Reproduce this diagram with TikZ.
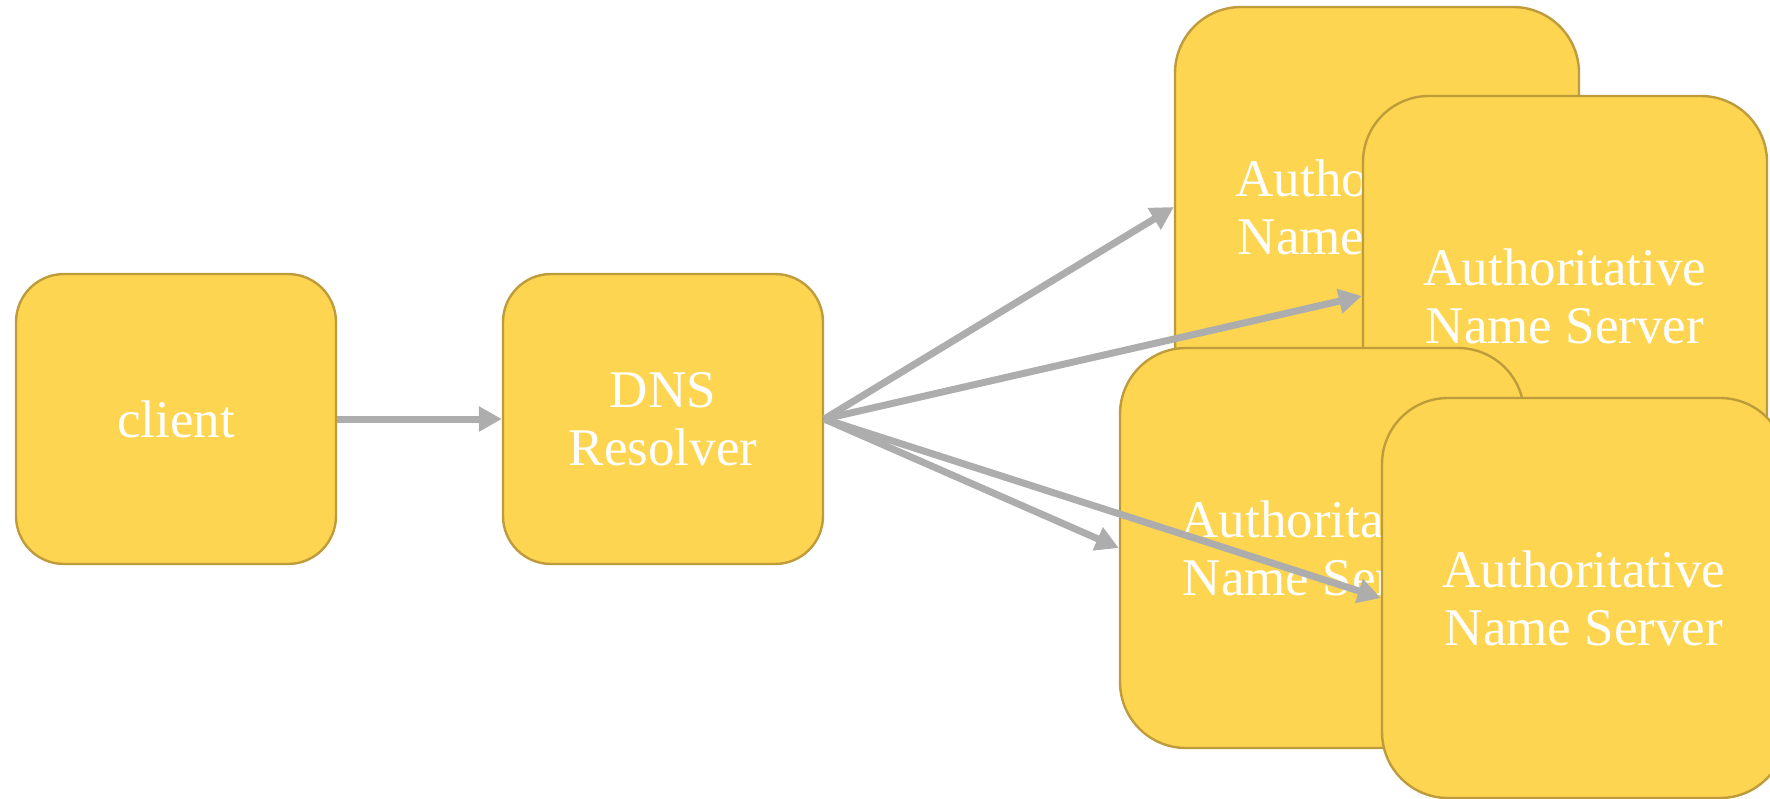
\documentclass[tikz,border=0pt]{standalone}
\usepackage{fontspec}
\setmainfont{Liberation Serif}
\usetikzlibrary{arrows.meta}

\definecolor{boxfill}{HTML}{FED550}
\definecolor{boxline}{HTML}{BE9C3C}
\definecolor{linkgray}{HTML}{ADADAD}

\tikzset{
  card/.style={draw=boxline, line width=1.2pt, fill=boxfill, text=white,
    align=center, inner sep=0pt,
    font=\fontsize{26.5}{29}\selectfont},
  smallcard/.style={card, rounded corners=24pt,
    minimum width=160pt, minimum height=145pt},
  bigcard/.style={card, rounded corners=33pt,
    minimum width=202pt, minimum height=200pt},
  link/.style={draw=linkgray, line width=3.5pt,
    -{Triangle[length=11.5pt, width=12pt]}}
}

\begin{document}
\begin{tikzpicture}[x=0.5pt, y=-0.5pt]
  \useasboundingbox (0,0) rectangle (1770,798);
  \clip (0,0) rectangle (1770,798);

  % client and resolver
  \node[smallcard] (client) at (176,419) {client};
  \node[smallcard] (resolver) at (663,419) {DNS\\Resolver};

  % stacked authoritative servers, back to front
  \node[bigcard] (ns1) at (1377,207) {Authoritative\\Name Server};
  \node[bigcard] (ns2) at (1565,296) {Authoritative\\Name Server};
  \node[bigcard] (ns3) at (1322,548) {Authoritative\\Name Server};
  \node[bigcard] (ns4) at (1584,598) {Authoritative\\Name Server};

  % queries
  \draw[link] (client.east) -- (resolver.west);
  \draw[link] (resolver.east) -- (ns1.west);
  \draw[link] (resolver.east) -- (ns2.west);
  \draw[link] (resolver.east) -- (ns3.west);
  \draw[link] (resolver.east) -- (ns4.west);
\end{tikzpicture}
\end{document}
